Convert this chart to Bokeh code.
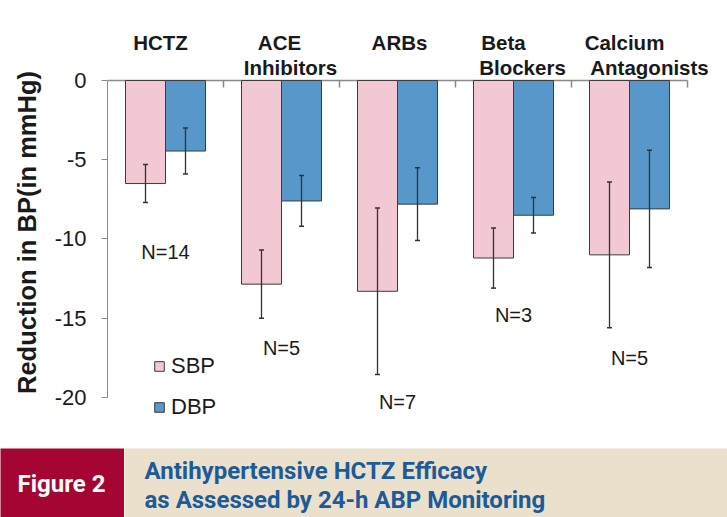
import math
from bokeh.plotting import figure
from bokeh.models import (Range1d, FixedTicker, ColumnDataSource, Whisker, TeeHead,
                          Legend, LegendItem)
from bokeh.layouts import column, row
from bokeh.core.properties import value
from bokeh.embed import file_html
from bokeh.resources import INLINE

# ---------------- data ----------------
categories = ["HCTZ", "ACE Inhibitors", "ARBs", "Beta Blockers", "Calcium Antagonists"]
label_line1 = ["HCTZ", "ACE", "ARBs", "Beta", "Calcium"]
label_line2 = ["", "Inhibitors", "", "Blockers", "Antagonists"]
sbp = [-6.5, -12.85, -13.3, -11.2, -11.0]
dbp = [-4.45, -7.6, -7.8, -8.5, -8.1]
sbp_err = [1.2, 2.15, 5.25, 1.9, 4.6]
dbp_err = [1.45, 1.6, 2.3, 1.12, 3.7]
n_labels = ["N=14", "N=5", "N=7", "N=3", "N=5"]
n_label_y = [-10.8, -16.85, -20.3, -14.8, -17.5]
y_ticks = [0, -5, -10, -15, -20]
series_names = ["SBP", "DBP"]
figure_tag = "Figure 2"
caption_lines = ["Antihypertensive HCTZ Efficacy", "as Assessed by 24-h ABP Monitoring"]

# ---------------- layout / style ----------------
FONT = "Liberation Sans"
CAP_FONT = "Roboto"
PINK = "#F2C8D3"
BLUE = "#5797C9"
OUTLINE = "#3C3C3C"
AXIS = "#8A8A8A"
TEXT = "#1A1A1A"
RED = "#A50533"
BEIGE = "#EAE0CC"
CAPTION_BLUE = "#1C5A98"

SLOT_PX = 116             # pixel width of one category slot
BAR_W = 40 / SLOT_PX      # bar width as a fraction of one category slot
EXTRA_RIGHT = 40 / SLOT_PX  # room to the right of the last slot for its title
line1_dx = [-5, -2, 2, -10, -5]   # pixel nudges of the category titles
line2_dx = [0, 9, 0, 9, 20]

n = len(categories)
idx = list(range(n))
centers = [i + 0.5 for i in idx]
sbp_x = [c - BAR_W / 2 for c in centers]
dbp_x = [c + BAR_W / 2 for c in centers]

p = figure(width=727, height=448, x_range=Range1d(0, n + EXTRA_RIGHT),
           y_range=Range1d(-23.22, 4.04),
           output_backend="svg", toolbar_location=None, x_axis_location=None,
           min_border_left=107, min_border_right=0, min_border_top=16, min_border_bottom=0)
p.grid.visible = False
p.outline_line_color = None
p.background_fill_color = "white"

ax = p.yaxis[0]
ax.ticker = FixedTicker(ticks=y_ticks)
ax.bounds = (min(y_ticks), max(y_ticks))
ax.major_label_overrides = {t: str(t) for t in y_ticks}
ax.major_tick_out = 6
ax.major_tick_in = 0
ax.minor_tick_line_color = None
ax.axis_line_color = AXIS
ax.major_tick_line_color = AXIS
ax.major_label_text_font = FONT
ax.major_label_text_font_size = "22px"
ax.major_label_text_color = TEXT
ax.major_label_standoff = 15
ax.axis_label = "Reduction in BP(in mmHg)"
ax.axis_label_text_font = FONT
ax.axis_label_text_font_size = "25.5px"
ax.axis_label_text_font_style = "bold"
ax.axis_label_text_color = TEXT
ax.axis_label_standoff = 11

# top line across the category slots, with boundary ticks
p.segment(x0=[0], y0=[0], x1=[n], y1=[0], line_color=AXIS, line_width=1.5)
p.ray(x=[i + 1 for i in idx], y=[0] * n, length=7, length_units="screen",
      angle=-math.pi / 2, line_color=AXIS, line_width=1.5)

src_s = ColumnDataSource(dict(x=sbp_x, top=sbp,
                              upper=[v + e for v, e in zip(sbp, sbp_err)],
                              lower=[v - e for v, e in zip(sbp, sbp_err)]))
src_d = ColumnDataSource(dict(x=dbp_x, top=dbp,
                              upper=[v + e for v, e in zip(dbp, dbp_err)],
                              lower=[v - e for v, e in zip(dbp, dbp_err)]))

r_s = p.vbar(x="x", top="top", bottom=0, width=BAR_W, source=src_s,
             fill_color=PINK, line_color=OUTLINE, line_width=1)
r_d = p.vbar(x="x", top="top", bottom=0, width=BAR_W, source=src_d,
             fill_color=BLUE, line_color=OUTLINE, line_width=1)

for src in (src_s, src_d):
    w = Whisker(source=src, base="x", upper="upper", lower="lower", level="annotation",
                line_color="#333333", line_width=1.3,
                upper_head=TeeHead(size=5, line_color="#333333", line_width=1.5),
                lower_head=TeeHead(size=5, line_color="#333333", line_width=1.5))
    p.add_layout(w)

# category titles
lab_src = ColumnDataSource(dict(x=centers, y=[0] * n, l1=label_line1, l2=label_line2,
                                dx1=line1_dx, dx2=line2_dx))
p.text(x="x", y="y", text="l1", x_offset="dx1", y_offset=-38, source=lab_src,
       text_align="center", text_baseline="middle", text_font=value(FONT),
       text_font_size="20.5px", text_font_style="bold", text_color=TEXT)
p.text(x="x", y="y", text="l2", x_offset="dx2", y_offset=-13, source=lab_src,
       text_align="center", text_baseline="middle", text_font=value(FONT),
       text_font_size="20.5px", text_font_style="bold", text_color=TEXT)

# N labels
p.text(x=centers, y=n_label_y, text=n_labels, text_align="center", text_baseline="middle",
       text_font=value(FONT), text_font_size="20px", text_color=TEXT)

legend = Legend(items=[LegendItem(label=series_names[0], renderers=[r_s]),
                       LegendItem(label=series_names[1], renderers=[r_d])],
                location=(46, 28), padding=0, margin=0, spacing=15,
                glyph_width=12, glyph_height=12, label_height=22, label_standoff=6,
                label_text_font=FONT, label_text_font_size="22px", label_text_color=TEXT,
                border_line_color=None, background_fill_alpha=0)
p.add_layout(legend)

# ---------------- caption band ----------------
BAND_H = 69

def band(width, color):
    f = figure(width=width, height=BAND_H, x_range=Range1d(0, width), y_range=Range1d(BAND_H, 0),
               title=None, min_border=0, toolbar_location=None, output_backend="svg",
               x_axis_location=None, y_axis_location=None,
               background_fill_color=color, border_fill_color=color)
    f.grid.visible = False
    f.outline_line_color = None
    return f

red = band(124, RED)
red.text(x=[61], y=[35], text=[figure_tag], text_align="center", text_baseline="middle",
         text_font=value(CAP_FONT), text_font_size="24px", text_font_style="bold",
         text_color="white")
beige = band(603, BEIGE)
beige.text(x=[20, 20], y=[22, 51], text=caption_lines, text_align="left",
           text_baseline="middle", text_font=value(CAP_FONT), text_font_size="24px",
           text_font_style="bold", text_color=CAPTION_BLUE)

layout = column(p, row(red, beige, spacing=0), spacing=0)
open("out.html", "w").write(file_html(layout, INLINE))
